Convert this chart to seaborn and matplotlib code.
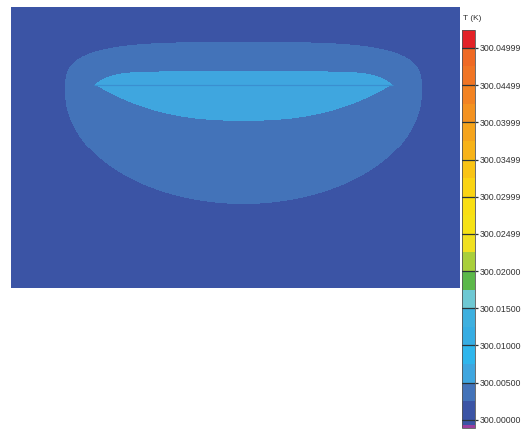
import numpy as np
import matplotlib
matplotlib.use("Agg")
import matplotlib.pyplot as plt
from matplotlib.colors import ListedColormap, BoundaryNorm
import seaborn as sns

# Plate cross-section (mm); depth is measured downward from the top surface
PLATE_WIDTH = 45.0
PLATE_DEPTH = 28.2
CELL = 0.1

T_AMBIENT = 300.0
# Temperature rise (K) on the two isotherms that bound the warm zones
BULK_RISE_EDGE = 0.0025
LENS_RISE_EDGE = 0.0050
BULK_PEAK_GAIN = 0.4          # bulk rise at its centre = edge * exp(gain)
LENS_PEAK = 0.0035            # extra rise carried by the hot lens
LENS_SHARPNESS = 20.0

# Hot lens around the heated line: centre x, line depth, half-length, height above, depth below
LENS_GEOM = [23.3, 7.8, 15.0, 1.35, 3.5]
LENS_EXP = [10.0, 2.5]        # edge exponents above / below the line
# Conduction zone: centre x, centre depth, half-width, extent above, extent below
BULK_GEOM = [23.3, 8.5, 17.9, 5.0, 11.3]
BULK_EXP_UP = 3.5

tick_labels = ["300.04999", "300.04499", "300.03999", "300.03499", "300.02999",
               "300.02499", "300.02000", "300.01500", "300.01000", "300.00500",
               "300.00000"]

# Colour bands of the legend (temperature rise, K) and their colours, low to high
band_edges = [-0.0011, -0.0007, 0.0025, 0.0050, 0.0075, 0.0100, 0.0125, 0.0150,
              0.0175, 0.0200, 0.0225, 0.0250, 0.0275, 0.0300, 0.0325, 0.0350,
              0.0375, 0.0400, 0.0425, 0.0450, 0.0475, 0.0500, 0.0524]
band_colors = ["#9b3f9f", "#3b54a5", "#4373b9", "#3fa6df", "#2fb6ec", "#36ade3",
               "#3eb0df", "#6ec8d3", "#5cb84a", "#a9cf3b", "#f0e020", "#f6e215",
               "#f9df12", "#fad412", "#f9c414", "#f7b318", "#f5a41c", "#f39220",
               "#f28322", "#f07524", "#ef6a24", "#e32227"]

sns.set_style("white")
plt.rcParams["font.family"] = ["Liberation Sans", "DejaVu Sans"]

# ---- temperature field on the cross-section ----
nx = int(round(PLATE_WIDTH / CELL))
nz = int(round(PLATE_DEPTH / CELL))
x = (np.arange(nx) + 0.5) * CELL
z = (np.arange(nz) + 0.5) * CELL
X, Z = np.meshgrid(x, z)

# conduction zone: elliptic below its centre, flattened above
bx, bz, rbx, rbu, rbd = BULK_GEOM
ub = np.abs(X - bx) / rbx
vu = np.clip((bz - Z) / rbu, 0, None)
vd = np.clip((Z - bz) / rbd, 0, None)
rho_b2 = np.where(Z < bz,
                  (ub ** BULK_EXP_UP + vu ** BULK_EXP_UP) ** (2.0 / BULK_EXP_UP),
                  ub ** 2 + vd ** 2)
bulk = BULK_RISE_EDGE * np.exp(BULK_PEAK_GAIN * (1.0 - rho_b2))

# hot lens around the heated line
lx, lz, half, hu, hd = LENS_GEOM
ul = np.abs(X - lx) / half
dz = Z - lz
rho_l = np.where(dz < 0, ul ** LENS_EXP[0] - dz / hu, ul ** LENS_EXP[1] + dz / hd)
lens = LENS_PEAK / (1.0 + np.exp(np.minimum(LENS_SHARPNESS * (rho_l - 1.0), 60)))

T = T_AMBIENT + bulk + lens

# ---- figure ----
cmap = ListedColormap(band_colors)
norm = BoundaryNorm([T_AMBIENT + e for e in band_edges], cmap.N)

fig = plt.figure(figsize=(5.23, 4.30), dpi=100)
ax = fig.add_axes([11 / 523, 1 - 288 / 430, 449 / 523, 281 / 430])
cax = fig.add_axes([462 / 523, 1 - 428 / 430, 13 / 523, 398 / 430])

sns.heatmap(T, ax=ax, cbar_ax=cax, cmap=cmap, norm=norm,
            xticklabels=False, yticklabels=False,
            cbar_kws={"spacing": "proportional"})

# heated line through the lens
ax.plot([(lx - half) / CELL, (lx + half) / CELL], [lz / CELL, lz / CELL],
        color="#3a8fd0", lw=0.9, solid_capstyle="butt")
ax.set_xticks([])
ax.set_yticks([])

cb = ax.collections[0].colorbar
tick_values = [float(s) for s in tick_labels]
cb.set_ticks(tick_values, labels=tick_labels)
cb.ax.minorticks_off()
cb.ax.tick_params(direction="out", length=2.5, width=0.9, color="#2a3438",
                  labelsize=6.3, labelcolor="#333333", pad=1.2)
for v in tick_values:
    cb.ax.axhline(v, color="#2a3438", lw=0.9, zorder=5)
cb.outline.set_linewidth(0.6)
cb.outline.set_edgecolor("#555555")

fig.text(463 / 523, 1 - 18 / 430, "T (K)", fontsize=6, color="#333333",
         ha="left", va="center")

fig.savefig("out.png", dpi=100)
